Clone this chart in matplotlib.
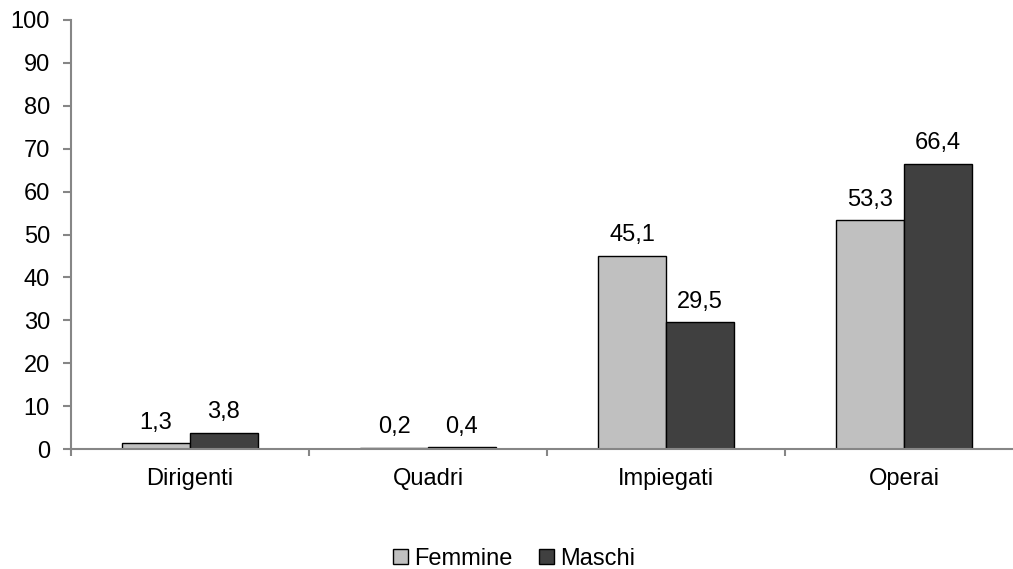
import matplotlib
matplotlib.use("Agg")
import matplotlib.pyplot as plt
import numpy as np

categories = ["Dirigenti", "Quadri", "Impiegati", "Operai"]
femmine = [1.3, 0.2, 45.1, 53.3]
maschi = [3.8, 0.4, 29.5, 66.4]
series_names = ["Femmine", "Maschi"]
y_ticks = [0, 10, 20, 30, 40, 50, 60, 70, 80, 90, 100]

plt.rcParams['font.family'] = ['Liberation Sans', 'DejaVu Sans']
FS = 17

fig = plt.figure(figsize=(10.13, 5.69), dpi=100)
ax = fig.add_axes([71 / 1013, 120 / 569, 1 - 71 / 1013, 429 / 569])

x = np.arange(len(categories))
w = 0.285
axis_grey = "#868686"

b1 = ax.bar(x - w / 2, femmine, w, color="#C0C0C0", edgecolor="black", linewidth=1.0, label=series_names[0])
b2 = ax.bar(x + w / 2, maschi, w, color="#404040", edgecolor="black", linewidth=1.0, label=series_names[1])

def fmt(v):
    return f"{v:.1f}".replace(".", ",")

for bars, vals in ((b1, femmine), (b2, maschi)):
    for r, v in zip(bars, vals):
        ax.annotate(fmt(v), (r.get_x() + r.get_width() / 2, v), xytext=(0, 7),
                    textcoords="offset points", ha="center", va="bottom", fontsize=FS)

ax.set_ylim(0, 100)
ax.set_xlim(-0.5, 3.458)
ax.set_yticks(y_ticks)
ax.set_yticklabels([str(t) for t in y_ticks], fontsize=FS)
ax.set_xticks(x)
ax.set_xticklabels(categories, fontsize=FS)
ax.tick_params(axis="x", which="major", length=0, pad=14)
ax.set_xticks(np.arange(-0.5, 3.4, 1.0), minor=True)
ax.tick_params(axis="x", which="minor", length=5, color=axis_grey, width=1.5)
ax.tick_params(axis="y", length=5.8, color=axis_grey, width=1.5, pad=9.4)

for s in ("top", "right"):
    ax.spines[s].set_visible(False)
for s in ("left", "bottom"):
    ax.spines[s].set_color(axis_grey)
    ax.spines[s].set_linewidth(1.5)

fig.legend(handles=[b1, b2], labels=series_names, loc="center",
           bbox_to_anchor=(514 / 1013, (569 - 559) / 569),
           ncol=2, frameon=False, fontsize=FS, handlelength=0.62, handleheight=0.62,
           handletextpad=0.25, columnspacing=1.15, borderpad=0.1)

fig.savefig("out.png", dpi=100)
